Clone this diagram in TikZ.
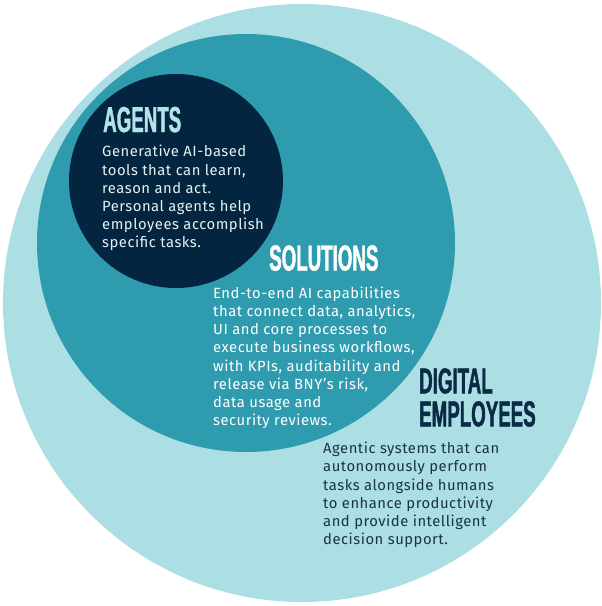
\documentclass[tikz,border=0pt]{standalone}
\usepackage{fontspec}
\newfontfamily\headfont[FakeStretch=0.52,FakeBold=1.2]{Liberation Sans Bold}
\newfontfamily\bodyfont[LetterSpace=3.5]{Fira Sans}
\usepackage{tikz}
\usetikzlibrary{positioning}

\definecolor{outercyan}{HTML}{ACDFE3}
\definecolor{midteal}{HTML}{2E9BAE}
\definecolor{innernavy}{HTML}{03253F}
\definecolor{headcyan}{HTML}{B2E5EA}
\definecolor{lighttext}{HTML}{E4F1F3}
\definecolor{darktext}{HTML}{0A2B45}
\definecolor{darkbody}{HTML}{1A3249}

\begin{document}
\begin{tikzpicture}[
    x=1pt,
    y=-1pt,
    ring/.style={
        circle,
        draw=none,
        inner sep=0pt
    },
    title/.style={
        inner sep=0pt,
        align=left,
        font=\headfont\fontsize{36}{33}\selectfont
    },
    body/.style={
        inner sep=0pt,
        align=left,
        font=\bodyfont\fontsize{14.8}{18.2}\selectfont
    }
]
\useasboundingbox (0,0) rectangle (602,606);

% Nested circles
\node[ring, fill=outercyan, minimum size=598pt] (digital) at (302,303) {};
\node[ring, fill=midteal, minimum size=418pt] (solutions) at (246,243) {};
\node[ring, fill=innernavy, minimum size=214pt] (agents) at (176,181) {};

% Titles
\node[title, text=headcyan, anchor=base west] (agentstitle) at (103,132) {AGENTS};
\node[title, text=white, anchor=base west] (soltitle) at (269,270.5) {SOLUTIONS};
\node[title, text=darktext, anchor=north west] (digitaltitle) at (419,368) {DIGITAL\\EMPLOYEES};

% Descriptions
\node[body, text=lighttext, below=12.5pt of agentstitle.south west, anchor=north west, xshift=-1pt] (agentstext)
    {Generative AI-based\\tools that can learn,\\reason and act.\\Personal agents help\\employees accomplish\\specific tasks.};

\node[body, text=white, below=15.5pt of soltitle.south west, anchor=north west, xshift=-56pt] (soltext)
    {End-to-end AI capabilities\\that connect data, analytics,\\UI and core processes to\\execute business workflows,\\with KPIs, auditability and\\release via BNY’s risk,\\data usage and\\security reviews.};

\node[body, text=darkbody, below=15pt of digitaltitle.south west, anchor=north west, xshift=-96pt] (digitaltext)
    {Agentic systems that can\\autonomously perform\\tasks alongside humans\\to enhance productivity\\and provide intelligent\\decision support.};

\end{tikzpicture}
\end{document}
